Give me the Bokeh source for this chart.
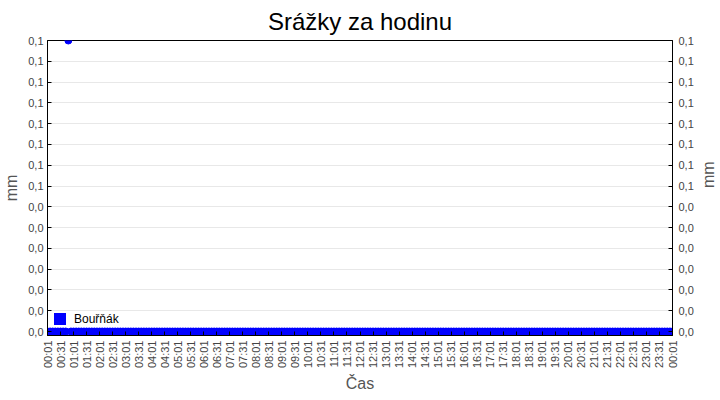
import numpy as np
from bokeh.plotting import figure
from bokeh.models import LinearAxis, FixedTicker, Range1d, Legend, LegendItem, ColumnDataSource
from bokeh.embed import file_html
from bokeh.resources import INLINE

# ---- data ----
series_name = "Bouřňák"
sample_minutes = list(range(1, 1442, 6))          # sampling times (minutes after 00:00)
rain_mm = [0.0] * 8 + [0.1] + [0.0] * (len(sample_minutes) - 9)

x_tick_minutes = list(range(1, 1442, 30))
x_tick_labels = ["00:01", "00:31", "01:01", "01:31", "02:01", "02:31", "03:01", "03:31",
                 "04:01", "04:31", "05:01", "05:31", "06:01", "06:31", "07:01", "07:31",
                 "08:01", "08:31", "09:01", "09:31", "10:01", "10:31", "11:01", "11:31",
                 "12:01", "12:31", "13:01", "13:31", "14:01", "14:31", "15:01", "15:31",
                 "16:01", "16:31", "17:01", "17:31", "18:01", "18:31", "19:01", "19:31",
                 "20:01", "20:31", "21:01", "21:31", "22:01", "22:31", "23:01", "23:31",
                 "00:01"]
y_ticks = [float(v) for v in np.linspace(0.0, 0.1, 15)]
y_tick_labels = ["0,0"] * 7 + ["0,1"] * 8

FONT = "Liberation Sans"
y_pad = 0.1 * 4 / 291   # a little room under zero so the markers on zero are not cut

p = figure(frame_width=625, frame_height=295, output_backend="svg", toolbar_location=None,
           x_range=Range1d(1, 1441), y_range=Range1d(-y_pad, 0.1),
           min_border_left=0, min_border_right=0, min_border_top=0, min_border_bottom=0)
p.background_fill_color = "white"
p.border_fill_color = "white"
p.outline_line_color = "black"
p.outline_line_width = 1

p.title.text = "Srážky za hodinu"
p.title.text_font = FONT
p.title.text_font_size = "24px"
p.title.text_font_style = "normal"
p.title.text_color = "black"
p.title.align = "center"
p.title.standoff = 11

src = ColumnDataSource(dict(x=sample_minutes, y=rain_mm))
p.scatter("x", "y", source=src, size=7, color="#0000ff", marker="circle")

leg_r = p.quad(left=[np.nan], right=[np.nan], top=[np.nan], bottom=[np.nan],
               fill_color="#0000ff", line_color=None)

def style_axis(ax, label):
    ax.axis_label = label
    ax.axis_label_text_font = FONT
    ax.axis_label_text_font_size = "16px"
    ax.axis_label_text_font_style = "normal"
    ax.axis_label_text_color = "#555555"
    ax.major_label_text_font = FONT
    ax.major_label_text_font_size = "11px"
    ax.major_label_text_color = "#444444"
    ax.axis_line_color = "black"
    ax.major_tick_line_color = "black"
    ax.major_tick_in = 4
    ax.major_tick_out = 0
    ax.minor_tick_line_color = None

xa = p.xaxis[0]
xa.ticker = FixedTicker(ticks=x_tick_minutes)
xa.major_label_overrides = dict(zip(x_tick_minutes, x_tick_labels))
xa.major_label_orientation = np.pi / 2
style_axis(xa, "Čas")
xa.major_label_standoff = 5
xa.axis_label_standoff = 4

ya = p.yaxis[0]
ya.ticker = FixedTicker(ticks=y_ticks)
ya.major_label_overrides = dict(zip(y_ticks, y_tick_labels))
style_axis(ya, "mm")
ya.major_label_standoff = 4
ya.axis_label_standoff = 5

ra = LinearAxis(ticker=FixedTicker(ticks=y_ticks))
ra.major_label_overrides = dict(zip(y_ticks, y_tick_labels))
style_axis(ra, "mm")
ra.major_label_standoff = 6
ra.axis_label_standoff = 12
if "axis_label_orientation" in ra.properties():
    ra.axis_label_orientation = np.pi / 2
p.add_layout(ra, "right")

p.xgrid.grid_line_color = None
p.ygrid.grid_line_color = "#e8e8e8"
p.ygrid.ticker = FixedTicker(ticks=y_ticks)

legend = Legend(items=[LegendItem(label=series_name, renderers=[leg_r])],
                location=(5, 9), margin=0, padding=0,
                glyph_width=15, glyph_height=15, label_height=15,
                label_standoff=7, label_text_font=FONT, label_text_font_size="12px",
                label_text_color="black", border_line_color=None,
                background_fill_alpha=0.0)
p.add_layout(legend, "center")

open("out.html", "w").write(file_html(p, INLINE))
